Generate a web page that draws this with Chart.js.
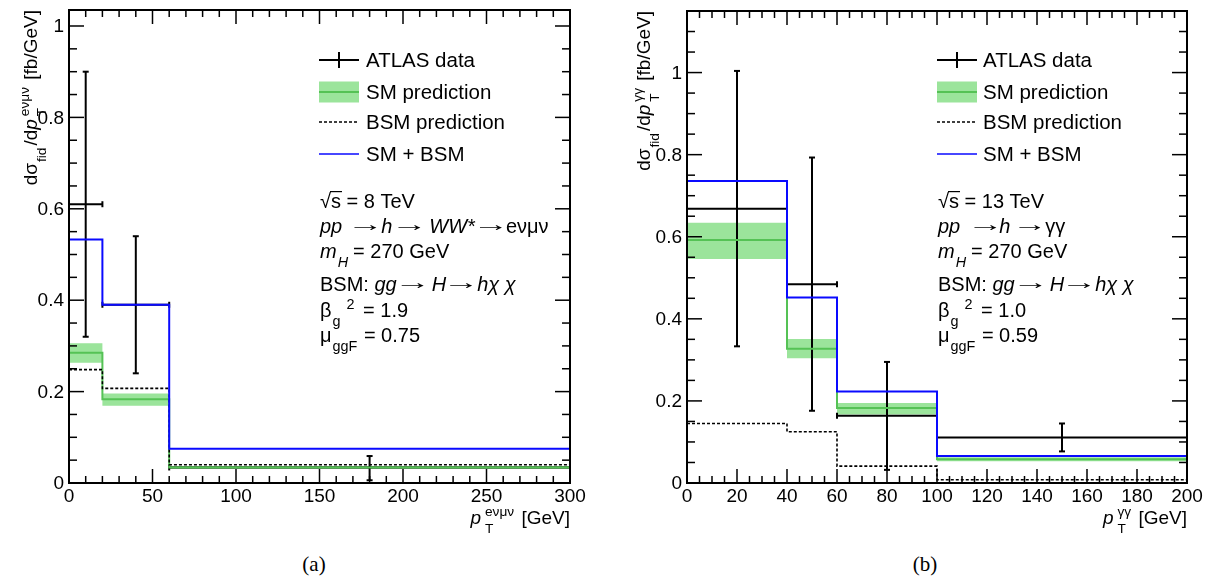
<!DOCTYPE html>
<html>
<head>
<meta charset="utf-8">
<script src="https://cdn.jsdelivr.net/npm/chart.js@4.4.0/dist/chart.umd.min.js"></script>
<style>
  body { margin: 0; background: #fff; width: 1210px; height: 580px; overflow: hidden; position: relative; }
  canvas { position: absolute; top: 0; }
  #chartA { left: 0; }
  #chartB { left: 605px; }
  .cap { position: absolute; top: 552px; width: 80px; text-align: center; line-height: 26px;
         font: 21px "Liberation Serif", "DejaVu Serif", serif; color: #000; }
</style>
</head>
<body>
<canvas id="chartA" width="605" height="540"></canvas>
<canvas id="chartB" width="605" height="540"></canvas>
<div class="cap" style="left:274px">(a)</div>
<div class="cap" style="left:885px">(b)</div>

<script>
// ---- panel (a) : h -> WW* -> e nu mu nu, 8 TeV ----
const binsA = [0, 20, 60, 300];
const dataXA = [10, 40, 180];
const dataA = [0.61, 0.39, 0.034];
const dataHiA = [0.90, 0.54, 0.059];
const dataLoA = [0.32, 0.24, 0.006];
const smA = [0.285, 0.183, 0.034];
const smHiA = [0.306, 0.196, 0.037];
const smLoA = [0.263, 0.169, 0.031];
const bsmA = [0.248, 0.207, 0.040];
const totA = [0.533, 0.390, 0.075];
const xTicksA = [0, 50, 100, 150, 200, 250, 300];
const yTicksA = [0, 0.2, 0.4, 0.6, 0.8, 1];
const yLabelsA = ['0', '0.2', '0.4', '0.6', '0.8', '1'];

// ---- panel (b) : h -> gamma gamma, 13 TeV ----
const binsB = [0, 40, 60, 100, 200];
const dataXB = [20, 50, 80, 150];
const dataB = [0.668, 0.484, 0.164, 0.111];
const dataHiB = [1.004, 0.793, 0.295, 0.145];
const dataLoB = [0.333, 0.176, 0.032, 0.077];
const smB = [0.592, 0.327, 0.183, 0.058];
const smHiB = [0.634, 0.351, 0.195, 0.063];
const smLoB = [0.546, 0.304, 0.167, 0.053];
const bsmB = [0.145, 0.125, 0.041, 0.008];
const totB = [0.736, 0.452, 0.223, 0.066];
const xTicksB = [0, 20, 40, 60, 80, 100, 120, 140, 160, 180, 200];
const yTicksB = [0, 0.2, 0.4, 0.6, 0.8, 1];
const yLabelsB = ['0', '0.2', '0.4', '0.6', '0.8', '1'];

const legendNames = ['ATLAS data', 'SM prediction', 'BSM prediction', 'SM + BSM'];

const FONT = '"Liberation Sans", Arial, Helvetica, sans-serif';
const BLUE = '#0a0aff';
const GREEN = '#55c255';
const BAND = '#9be49b';

function setFont(ctx, size, italic, family) {
  ctx.font = (italic ? 'italic ' : '') + size.toFixed(1) + 'px ' + (family || FONT);
}

// tiny TLatex-like writer: plain / italic pieces, sub+sup stacks, gaps, long arrows, sqrt bar
function richText(ctx, parts, x, y, size, draw) {
  const small = size * 0.72;
  let cx = x;
  parts.forEach(p => {
    if (p.gap !== undefined) {
      cx += p.gap;
      return;
    }
    if (p.arrow) {
      // arrow glyph stretched so that its ink is p.arrow pixels wide
      setFont(ctx, size, false);
      const m = ctx.measureText('\u2192');
      const ink = m.actualBoundingBoxLeft + m.actualBoundingBoxRight;
      if (draw) {
        ctx.save();
        ctx.translate(cx, y - 1.5);
        ctx.scale(p.arrow / ink, 1);
        ctx.fillText('\u2192', m.actualBoundingBoxLeft, 0);
        ctx.restore();
      }
      cx += p.arrow;
      return;
    }
    if (p.sub !== undefined || p.sup !== undefined) {
      cx += (p.pre !== undefined ? p.pre : 2);
      setFont(ctx, small, p.i);
      let w = 0;
      if (p.sub) {
        if (draw) ctx.fillText(p.sub, cx, y + size * 0.45);
        w = Math.max(w, ctx.measureText(p.sub).width);
      }
      if (p.sup) {
        if (draw) ctx.fillText(p.sup, cx, y - size * 0.4);
        w = Math.max(w, ctx.measureText(p.sup).width);
      }
      cx += w + (p.post !== undefined ? p.post : 2);
      return;
    }
    setFont(ctx, size, p.i);
    const w = ctx.measureText(p.t).width;
    if (draw) {
      ctx.fillText(p.t, cx, y);
      if (p.bar) {
        ctx.save();
        ctx.strokeStyle = '#000';
        ctx.lineWidth = 1.2;
        ctx.beginPath();
        ctx.moveTo(cx - 1, y - size * 0.82);
        ctx.lineTo(cx + w + 1, y - size * 0.82);
        ctx.stroke();
        ctx.restore();
      }
    }
    cx += w;
  });
  return cx - x;
}

function steps(edges, vals) {
  return edges.map((x, i) => ({ x: x, y: vals[Math.min(i, vals.length - 1)] }));
}

function seg(ctx, x0, y0, x1, y1) {
  ctx.beginPath();
  ctx.moveTo(x0, y0);
  ctx.lineTo(x1, y1);
  ctx.stroke();
}

function isMajor(v, list) {
  return list.some(t => Math.abs(t - v) < 1e-6);
}

// ROOT style frame, ticks, error bars, legend and labels
const rootStyle = {
  id: 'rootStyle',
  afterDatasetDraw(chart, args, opts) {
    if (args.index !== 3) return;
    const ctx = chart.ctx, xs = chart.scales.x, ys = chart.scales.y, a = chart.chartArea;
    const pts = chart.getDatasetMeta(3).data;
    ctx.save();
    ctx.beginPath();
    ctx.rect(a.left, a.top, a.right - a.left, a.bottom - a.top);
    ctx.clip();
    ctx.strokeStyle = '#000';
    ctx.lineWidth = 2;
    pts.forEach((pt, i) => {
      const x0 = xs.getPixelForValue(opts.bins[i]);
      const x1 = xs.getPixelForValue(opts.bins[i + 1]);
      const yh = ys.getPixelForValue(opts.hi[i]);
      const yl = ys.getPixelForValue(opts.lo[i]);
      seg(ctx, x0, pt.y, x1, pt.y);
      seg(ctx, x0, pt.y - 3, x0, pt.y + 3);
      seg(ctx, x1, pt.y - 3, x1, pt.y + 3);
      seg(ctx, pt.x, yh, pt.x, yl);
      seg(ctx, pt.x - 3, yh, pt.x + 3, yh);
      seg(ctx, pt.x - 3, yl, pt.x + 3, yl);
    });
    ctx.restore();
  },
  afterDraw(chart, args, opts) {
    const ctx = chart.ctx, xs = chart.scales.x, ys = chart.scales.y, a = chart.chartArea;
    ctx.save();
    ctx.strokeStyle = '#000';
    ctx.fillStyle = '#000';

    // ticks on all four sides, pointing inwards
    ctx.lineWidth = 1.5;
    const nx = Math.round((xs.max - xs.min) / opts.xMinor);
    for (let i = 0; i <= nx; i++) {
      const v = xs.min + i * opts.xMinor;
      const px = xs.getPixelForValue(v);
      const len = isMajor(v, opts.xTicks) ? 14 : 7;
      seg(ctx, px, a.bottom, px, a.bottom - len);
      seg(ctx, px, a.top, px, a.top + len);
    }
    const ny = Math.floor((ys.max - ys.min) / opts.yMinor + 1e-6);
    for (let i = 0; i <= ny; i++) {
      const v = ys.min + i * opts.yMinor;
      const py = ys.getPixelForValue(v);
      const len = isMajor(v, opts.yTicks) ? 15 : 8;
      seg(ctx, a.left, py, a.left + len, py);
      seg(ctx, a.right, py, a.right - len, py);
    }
    ctx.lineWidth = 2;
    ctx.strokeRect(a.left, a.top, a.right - a.left, a.bottom - a.top);

    // tick labels
    setFont(ctx, opts.tickSize, false);
    ctx.textAlign = 'right';
    ctx.textBaseline = 'middle';
    opts.yTicks.forEach((v, i) => {
      ctx.fillText(opts.yLabels[i], a.left - 5, ys.getPixelForValue(v) + 1);
    });
    ctx.textAlign = 'center';
    ctx.textBaseline = 'alphabetic';
    opts.xTicks.forEach(v => {
      ctx.fillText(String(v), xs.getPixelForValue(v), a.bottom + 19);
    });

    // axis titles
    ctx.textAlign = 'left';
    const tw = richText(ctx, opts.yTitle, 0, 0, opts.titleSize, false);
    ctx.save();
    ctx.translate(opts.yTitleX, a.top);
    ctx.rotate(-Math.PI / 2);
    richText(ctx, opts.yTitle, -tw, 0, opts.titleSize, true);
    ctx.restore();
    const xw = richText(ctx, opts.xTitle, 0, 0, opts.titleSize, false);
    richText(ctx, opts.xTitle, a.right - xw, 524, opts.titleSize, true);

    // legend
    const L = opts.legend;
    const x0 = L.x, x1 = L.x + L.w, xm = (x0 + x1) / 2;
    const ds = chart.data.datasets;
    ctx.lineWidth = 2;
    ctx.strokeStyle = '#000';
    seg(ctx, x0, L.ys[0], x1, L.ys[0]);
    seg(ctx, xm, L.ys[0] - 8, xm, L.ys[0] + 8);
    ctx.fillStyle = ds[4].backgroundColor;
    ctx.fillRect(x0, L.ys[1] - 10.5, L.w, 21);
    ctx.strokeStyle = ds[2].borderColor;
    seg(ctx, x0, L.ys[1], x1, L.ys[1]);
    ctx.strokeStyle = ds[1].borderColor;
    ctx.lineWidth = ds[1].borderWidth;
    ctx.setLineDash(ds[1].borderDash);
    seg(ctx, x0, L.ys[2], x1, L.ys[2]);
    ctx.setLineDash([]);
    ctx.strokeStyle = ds[0].borderColor;
    ctx.lineWidth = 1.6;
    seg(ctx, x0, L.ys[3], x1, L.ys[3]);
    ctx.fillStyle = '#000';
    ctx.strokeStyle = '#000';
    setFont(ctx, opts.legendSize, false);
    ctx.textBaseline = 'middle';
    legendNames.forEach((n, i) => ctx.fillText(n, L.textX, L.ys[i] + 1));

    // physics annotation
    ctx.textBaseline = 'alphabetic';
    opts.notes.forEach((line, i) => {
      richText(ctx, line, opts.notesX, opts.notesY[i], opts.textSize, true);
    });
    ctx.restore();
  }
};

function makeChart(id, d) {
  return new Chart(document.getElementById(id), {
    type: 'line',
    data: {
      datasets: [
        { data: steps(d.bins, d.tot), borderColor: BLUE, borderWidth: 2, stepped: 'before', order: 1 },
        { data: steps(d.bins, d.bsm), borderColor: '#000', borderWidth: 1.6, borderDash: [3, 2], stepped: 'before', order: 2 },
        { data: steps(d.bins, d.sm), borderColor: GREEN, borderWidth: 2, stepped: 'before', order: 3 },
        { data: d.dataX.map((x, i) => ({ x: x, y: d.data[i] })), showLine: false, borderColor: '#000', order: 4 },
        { data: steps(d.bins, d.smHi), borderColor: 'rgba(0,0,0,0)', backgroundColor: BAND, borderWidth: 1,
          stepped: 'before', fill: '+1', order: 5 },
        { data: steps(d.bins, d.smLo), borderColor: 'rgba(0,0,0,0)', borderWidth: 1, stepped: 'before', order: 6 }
      ]
    },
    options: {
      responsive: false,
      animation: false,
      devicePixelRatio: 1,
      elements: { point: { radius: 0, hoverRadius: 0 }, line: { tension: 0 } },
      layout: { padding: d.padding },
      scales: {
        x: { type: 'linear', min: d.xMin, max: d.xMax, display: false },
        y: { type: 'linear', min: 0, max: d.yMax, display: false }
      },
      plugins: {
        legend: { display: false },
        tooltip: { enabled: false },
        rootStyle: d.style
      }
    },
    plugins: [rootStyle]
  });
}

const yTitleA = [{ t: 'd\u03c3' }, { sub: 'fid', pre: 1 }, { t: '/d' }, { t: 'p', i: true },
  { sub: 'T', sup: 'e\u03bd\u03bc\u03bd', pre: 3 }, { t: ' [fb/GeV]' }];
const xTitleA = [{ t: 'p', i: true }, { sub: 'T', sup: 'e\u03bd\u03bc\u03bd', pre: 4 }, { t: ' [GeV]' }];
const yTitleB = [{ t: 'd\u03c3' }, { sub: 'fid', pre: 1 }, { t: '/d' }, { t: 'p', i: true },
  { sub: 'T', sup: '\u03b3\u03b3', pre: 3 }, { t: ' [fb/GeV]' }];
const xTitleB = [{ t: 'p', i: true }, { sub: 'T', sup: '\u03b3\u03b3', pre: 4 }, { t: ' [GeV]' }];

const notesA = [
  [{ t: '\u221a' }, { t: 's', bar: true }, { t: ' = 8 TeV' }],
  [{ t: 'pp', i: true }, { gap: 12 }, { arrow: 22 }, { gap: 5 }, { t: 'h', i: true }, { gap: 6 }, { arrow: 22 },
    { gap: 9 }, { t: 'WW*', i: true }, { gap: 5 }, { arrow: 22 }, { gap: 4 }, { t: 'e\u03bd\u03bc\u03bd' }],
  [{ t: 'm', i: true }, { sub: 'H', i: true, pre: 1, post: 5 }, { t: '= 270 GeV' }],
  [{ t: 'BSM: ' }, { t: 'gg', i: true }, { gap: 5 }, { arrow: 22 }, { gap: 8 }, { t: 'H', i: true }, { gap: 4 },
    { arrow: 22 }, { gap: 5 }, { t: 'h\u03c7 \u03c7', i: true }],
  [{ t: '\u03b2' }, { sub: 'g', pre: 1, post: 0 }, { sup: '2', pre: 6, post: 3 }, { t: ' = 1.9' }],
  [{ t: '\u03bc' }, { sub: 'ggF', pre: 1, post: 1 }, { t: ' = 0.75' }]
];
const notesB = [
  [{ t: '\u221a' }, { t: 's', bar: true }, { t: ' = 13 TeV' }],
  [{ t: 'pp', i: true }, { gap: 14 }, { arrow: 22 }, { gap: 3 }, { t: 'h', i: true }, { gap: 9 }, { arrow: 21 },
    { gap: 5 }, { t: '\u03b3\u03b3' }],
  [{ t: 'm', i: true }, { sub: 'H', i: true, pre: 1, post: 5 }, { t: '= 270 GeV' }],
  [{ t: 'BSM: ' }, { t: 'gg', i: true }, { gap: 5 }, { arrow: 22 }, { gap: 8 }, { t: 'H', i: true }, { gap: 4 },
    { arrow: 22 }, { gap: 5 }, { t: 'h\u03c7 \u03c7', i: true }],
  [{ t: '\u03b2' }, { sub: 'g', pre: 1, post: 0 }, { sup: '2', pre: 6, post: 3 }, { t: ' = 1.0' }],
  [{ t: '\u03bc' }, { sub: 'ggF', pre: 1, post: 1 }, { t: ' = 0.59' }]
];
const notesY = [208, 232.5, 258, 290.5, 316.5, 341.5];

makeChart('chartA', {
  bins: binsA, dataX: dataXA, data: dataA, sm: smA, smHi: smHiA, smLo: smLoA, bsm: bsmA, tot: totA,
  xMin: 0, xMax: 300, yMax: 1.035,
  padding: { left: 69, right: 35, top: 10, bottom: 57 },
  style: {
    bins: binsA, hi: dataHiA, lo: dataLoA,
    xTicks: xTicksA, yTicks: yTicksA, yLabels: yLabelsA, xMinor: 10, yMinor: 0.05,
    tickSize: 19, titleSize: 19, textSize: 20, legendSize: 20.5,
    yTitle: yTitleA, yTitleX: 37, xTitle: xTitleA,
    legend: { x: 319, w: 40, textX: 366, ys: [60, 92, 122, 154] },
    notes: notesA, notesX: 320, notesY: notesY
  }
});

makeChart('chartB', {
  bins: binsB, dataX: dataXB, data: dataB, sm: smB, smHi: smHiB, smLo: smLoB, bsm: bsmB, tot: totB,
  xMin: 0, xMax: 200, yMax: 1.15,
  padding: { left: 82, right: 23, top: 11, bottom: 57 },
  style: {
    bins: binsB, hi: dataHiB, lo: dataLoB,
    xTicks: xTicksB, yTicks: yTicksB, yLabels: yLabelsB, xMinor: 5, yMinor: 0.05,
    tickSize: 19, titleSize: 19, textSize: 20, legendSize: 20.5,
    yTitle: yTitleB, yTitleX: 45, xTitle: xTitleB,
    legend: { x: 332, w: 40, textX: 378, ys: [60, 92, 122, 154] },
    notes: notesB, notesX: 333, notesY: notesY
  }
});
</script>
</body>
</html>
